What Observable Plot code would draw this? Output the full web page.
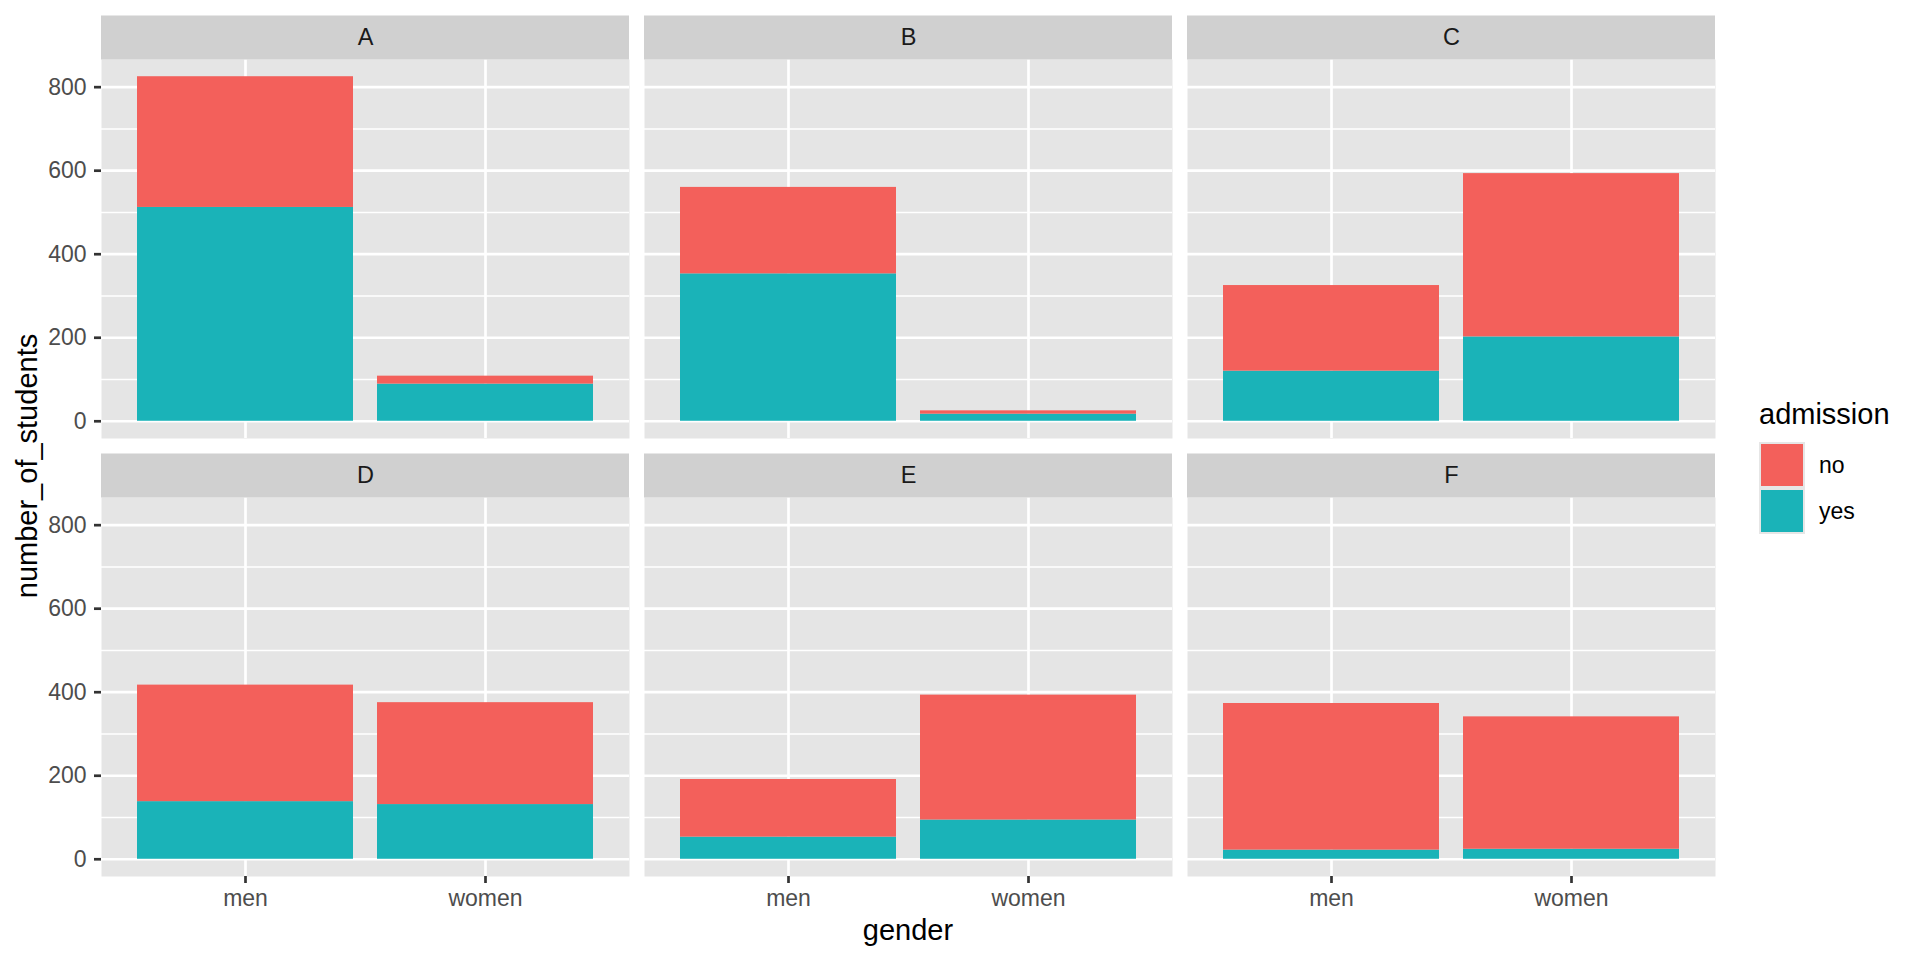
<!DOCTYPE html>
<html>
<head>
<meta charset="utf-8">
<script src="https://cdn.jsdelivr.net/npm/d3@7"></script>
<script src="https://cdn.jsdelivr.net/npm/@observablehq/plot@0.6"></script>
<style>
  html, body { margin: 0; padding: 0; background: #ffffff; }
  #wrap { position: relative; width: 1920px; height: 960px; font-family: "Liberation Sans", Arial, sans-serif; }
  #chart { position: absolute; left: 0; top: 0; }
  .title { position: absolute; font-size: 29px; color: #000; line-height: 1; white-space: nowrap; }
  #ytitle { left: 27px; top: 466px; transform: translate(-50%, -50%) rotate(-90deg); }
  #xtitle { left: 908px; top: 930px; transform: translate(-50%, -50%); }
  #legend { position: absolute; left: 1759px; top: 400px; }
  #legend .ltitle { font-size: 29px; line-height: 1; color: #000; margin-bottom: 13px; }
  .key { display: flex; align-items: center; height: 46px; }
  .sw { width: 42px; height: 42px; border: 2px solid #E6E6E6; box-sizing: content-box; }
  .lab { font-size: 23px; color: #000; margin-left: 14px; line-height: 1; }
</style>
</head>
<body>
<div id="wrap">
  <div id="chart"></div>
  <div id="ytitle" class="title">number_of_students</div>
  <div id="xtitle" class="title">gender</div>
  <div id="legend"></div>
</div>
<script>
const depts = ["A", "B", "C", "D", "E", "F"];
const genders = ["men", "women"];
const admissions = ["no", "yes"];
const menYes = [512, 353, 120, 138, 53, 22];
const menNo = [313, 207, 205, 279, 138, 351];
const womenYes = [89, 17, 202, 131, 94, 24];
const womenNo = [19, 8, 391, 244, 299, 317];
const yTicks = [0, 200, 400, 600, 800];
const yMinor = [100, 300, 500, 700];
const colors = ["#F3605B", "#1AB3B8"];

const rows = [];
const panels = [];
depts.forEach((dept, i) => {
  const col = i % 3, row = Math.floor(i / 3);
  panels.push({dept, col, row});
  rows.push({dept, col, row, gender: "men", admission: "yes", count: menYes[i]});
  rows.push({dept, col, row, gender: "women", admission: "yes", count: womenYes[i]});
  rows.push({dept, col, row, gender: "men", admission: "no", count: menNo[i]});
  rows.push({dept, col, row, gender: "women", admission: "no", count: womenNo[i]});
});
const totals = depts.flatMap((d, i) => [menYes[i] + menNo[i], womenYes[i] + womenNo[i]]);
const maxT = d3.max(totals);
const pad = 0.05 * maxT;
const yTop = maxT + pad;

const chart = Plot.plot({
  width: 1740,
  height: 960,
  marginTop: 59,
  marginBottom: 84,
  marginLeft: 101,
  marginRight: 25,
  style: {fontFamily: "'Liberation Sans', Arial, sans-serif", background: "white", overflow: "visible"},
  fx: {axis: null, domain: [0, 1, 2], paddingInner: 15 / 543, paddingOuter: 0, round: false},
  fy: {axis: null, domain: [0, 1], paddingInner: 59 / 438, paddingOuter: 0, round: false},
  x: {domain: genders, paddingInner: 0.1, paddingOuter: 0.15, round: false},
  y: {domain: [-pad, yTop]},
  color: {domain: admissions, range: colors},
  marks: [
    Plot.frame({fill: "#E5E5E5", stroke: null}),
    Plot.gridY({ticks: yMinor, stroke: "white", strokeOpacity: 1, strokeWidth: 1.4}),
    Plot.gridY({ticks: yTicks, stroke: "white", strokeOpacity: 1, strokeWidth: 2.7}),
    Plot.gridX({stroke: "white", strokeOpacity: 1, strokeWidth: 2.7}),
    Plot.barY(rows, {
      fx: "col", fy: "row", x: "gender", y: "count", fill: "admission",
      order: ["yes", "no"]
    }),
    Plot.ruleY(panels, {fx: "col", fy: "row", y: () => yTop, stroke: "#D0D0D0", strokeWidth: 44, dy: -22}),
    Plot.text(panels, {fx: "col", fy: "row", text: "dept", frameAnchor: "top", lineAnchor: "middle", dy: -22, fontSize: 23.5, fill: "#1A1A1A"}),
    Plot.axisY({ticks: yTicks, tickSize: 7, tickPadding: 8, fontSize: 23, fill: "#4D4D4D", stroke: "#333333", strokeWidth: 2.7, label: null, tickFormat: d3.format("d")}),
    Plot.axisX({tickSize: 7, tickPadding: 6, fontSize: 23, fill: "#4D4D4D", stroke: "#333333", strokeWidth: 2.7, label: null})
  ]
});
document.getElementById("chart").appendChild(chart);

const legend = document.getElementById("legend");
const lt = document.createElement("div");
lt.className = "ltitle";
lt.textContent = "admission";
legend.appendChild(lt);
const color = chart.scale("color");
admissions.forEach((a, i) => {
  const k = document.createElement("div");
  k.className = "key";
  const sw = document.createElement("div");
  sw.className = "sw";
  sw.style.background = color.range[i];
  const lab = document.createElement("span");
  lab.className = "lab";
  lab.textContent = a;
  k.appendChild(sw);
  k.appendChild(lab);
  legend.appendChild(k);
});
</script>
</body>
</html>
